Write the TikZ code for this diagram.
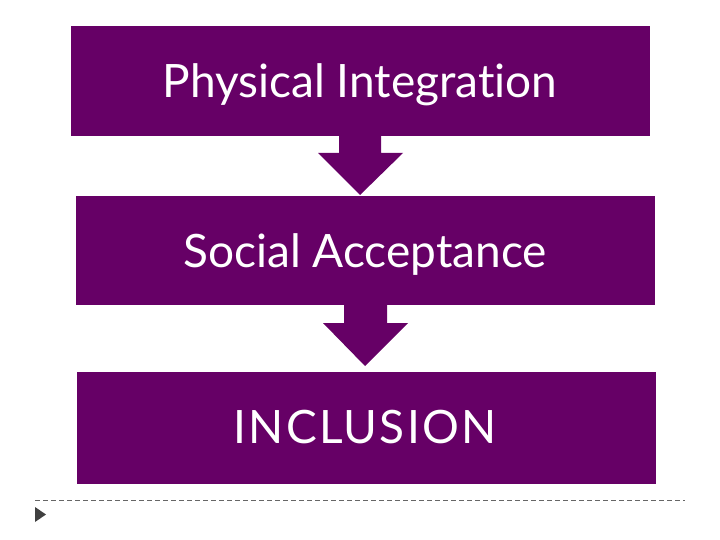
\documentclass[tikz,border=0pt]{standalone}
\usepackage{fontspec}
\setmainfont{Lato}[Ligatures={NoCommon}]
\definecolor{boxpurple}{HTML}{660066}
\definecolor{bulletgray}{HTML}{404040}
\begin{document}
\begin{tikzpicture}[x=1pt,y=-1pt,
  stagebox/.style={fill=boxpurple, draw=none, inner sep=0pt, anchor=north west},
  stagetext/.style={text=white, font=\fontsize{46}{54}\selectfont, inner sep=0pt, anchor=base},
  blockarrow/.style={fill=boxpurple, draw=none}]
\useasboundingbox (0,0) rectangle (720,540);
\node[stagebox, minimum width=579pt, minimum height=110pt] (b1) at (71,26) {};
\node[stagebox, minimum width=579pt, minimum height=109pt] (b2) at (76,196) {};
\node[stagebox, minimum width=579pt, minimum height=112pt] (b3) at (77,372) {};
\node[stagetext] (t1) at (360,98) {Physical Integration};
\node[stagetext] (t2) at (365,267) {Social Acceptance};
\node[stagetext] (t3) at (365,443) {\addfontfeature{LetterSpace=5}INCLUSION};
% arrows
\fill[blockarrow] (339,130) -- (381,130) -- (381,153) -- (403,153) -- (360,195) -- (318,153) -- (339,153) -- cycle;
\fill[blockarrow] (344,300) -- (387,300) -- (387,323) -- (408,323) -- (365,366) -- (323,323) -- (344,323) -- cycle;
% footer
\coordinate (dl) at (35,500);
\coordinate (dr) at (685,500);
\draw[bulletgray!80, line width=0.8pt, dash pattern=on 5pt off 3pt] (dl) -- (dr);
\fill[bulletgray] (35,507) -- (46,514.5) -- (35,522) -- cycle;
\end{tikzpicture}
\end{document}
